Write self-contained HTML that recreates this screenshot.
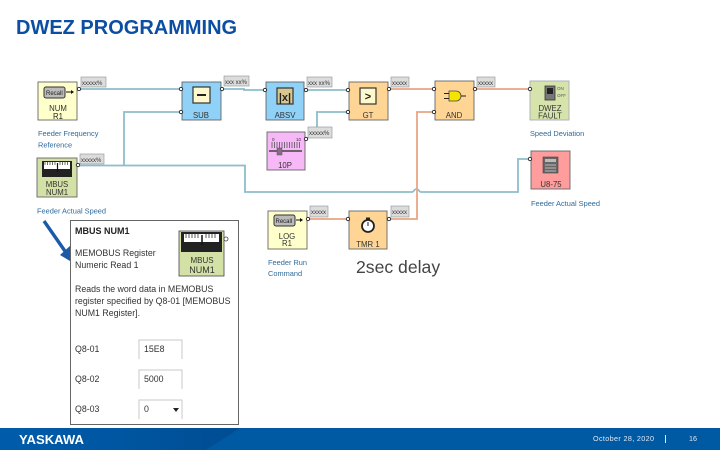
<!DOCTYPE html>
<html><head><meta charset="utf-8"><style>
html,body{margin:0;padding:0;background:#fff}
svg{display:block}
text{font-family:"Liberation Sans",sans-serif}
</style></head><body>
<svg width="720" height="450" viewBox="0 0 720 450" xmlns="http://www.w3.org/2000/svg">
<defs>
<linearGradient id="fl" x1="0" x2="1" y1="0" y2="0"><stop offset="0" stop-color="#005cab"/><stop offset=".55" stop-color="#00559f"/><stop offset="1" stop-color="#004c92"/></linearGradient>
</defs>
<rect width="720" height="450" fill="#fff"/>
<text x="16" y="34" font-size="20" font-weight="700" fill="#0b4ea2">DWEZ PROGRAMMING</text>

<!-- connectors blue -->
<g fill="none" stroke="#8dbdca" stroke-width="1.800">
<path d="M79 89H181"/>
<path d="M79 165.500H124V112H181"/>
<path d="M222 89H244V90H265"/>
<path d="M124 165.500H245V192H413M420 192H518V159H530"/>
<path d="M306 90H348"/>
<path d="M317 127V112H348"/>
<path d="M413 192Q416.500 186 420 192"/>
</g>
<!-- connectors orange -->
<g fill="none" stroke="#e8a585" stroke-width="1.800">
<path d="M389 89H434"/>
<path d="M475 89H530"/>
<path d="M307 219H348"/>
<path d="M389 219H417V112H434"/>
</g>

<!-- value tags -->
<g fill="#dcdcdc" stroke="#8a8f94" stroke-width=".6">
<rect x="81" y="77" width="25" height="10"/>
<rect x="224" y="76" width="25" height="10"/>
<rect x="307" y="77" width="25" height="10"/>
<rect x="391" y="77" width="18" height="10"/>
<rect x="477" y="77" width="18" height="10"/>
<rect x="80" y="154" width="24" height="10"/>
<rect x="308" y="127" width="24" height="11"/>
<rect x="310" y="206" width="18" height="11"/>
<rect x="391" y="206" width="18" height="11"/>
</g>
<g font-size="6" fill="#333">
<text x="82" y="85">xxxxx%</text><text x="225" y="84">xxx xx%</text><text x="308" y="85">xxx xx%</text>
<text x="392" y="85">xxxxx</text><text x="478" y="85">xxxxx</text><text x="81" y="162">xxxxx%</text>
<text x="309" y="135">xxxxx%</text><text x="311" y="214">xxxxx</text><text x="392" y="214">xxxxx</text>
</g>

<!-- blocks -->
<g stroke="#666" stroke-width=".9">
<rect x="38" y="82" width="39" height="38" fill="#ffffcc"/>
<rect x="182" y="82" width="39" height="38" fill="#8fd1f7"/>
<rect x="266" y="82" width="38" height="38" fill="#8fd1f7"/>
<rect x="267" y="132" width="38" height="38" fill="#f6b8f6"/>
<rect x="37" y="158" width="40" height="39" fill="#d3e0a6"/>
<rect x="349" y="82" width="39" height="38" fill="#ffd596"/>
<rect x="435" y="81" width="39" height="39" fill="#ffd596"/>
<rect x="530" y="81" width="39" height="39" fill="#d6e4ac" stroke="#aab"/>
<rect x="531" y="151" width="39" height="38" fill="#ff9c9c"/>
<rect x="268" y="211" width="39" height="38" fill="#ffffcc"/>
<rect x="349" y="211" width="38" height="38" fill="#ffd596"/>
</g>

<!-- ports -->
<g fill="#fff" stroke="#222" stroke-width=".9">
<circle cx="79" cy="89" r="1.700"/><circle cx="181" cy="89" r="1.700"/><circle cx="181" cy="112" r="1.700"/>
<circle cx="222" cy="89" r="1.700"/><circle cx="265" cy="90" r="1.700"/><circle cx="306" cy="90" r="1.700"/>
<circle cx="78" cy="165" r="1.700"/><circle cx="306" cy="139" r="1.700"/><circle cx="348" cy="90" r="1.700"/>
<circle cx="348" cy="112" r="1.700"/><circle cx="389" cy="89" r="1.700"/><circle cx="434" cy="89" r="1.700"/>
<circle cx="434" cy="112" r="1.700"/><circle cx="475" cy="89" r="1.700"/><circle cx="530" cy="89" r="1.700"/>
<circle cx="530" cy="159" r="1.700"/><circle cx="308" cy="219" r="1.700"/><circle cx="348" cy="219" r="1.700"/>
<circle cx="389" cy="219" r="1.700"/>
</g>

<!-- icons: Recall -->
<g>
<rect x="44" y="87" width="21" height="11" rx="2" fill="#bbb" stroke="#333"/>
<text x="46" y="95" font-size="6" fill="#222">Recall</text>
<path d="M66 92H72" stroke="#111" stroke-width="1"/><path d="M71 90l3 2-3 2z" fill="#111"/>
<rect x="274" y="215" width="21" height="11" rx="2" fill="#bbb" stroke="#333"/>
<text x="275.500" y="223" font-size="6" fill="#222">Recall</text>
<path d="M296 220H301" stroke="#111" stroke-width="1"/><path d="M300 218l3 2-3 2z" fill="#111"/>
</g>
<!-- SUB icon -->
<rect x="193" y="87" width="17" height="16" fill="#fff8cc" stroke="#333" stroke-width="1.200"/>
<rect x="197" y="94" width="9" height="2" fill="#222"/>
<!-- ABSV icon -->
<rect x="277" y="88" width="16" height="16" fill="#d8c890" stroke="#333" stroke-width="1.200"/>
<text x="285" y="101" font-size="11" font-weight="700" text-anchor="middle" fill="#222">|x|</text>
<!-- GT icon -->
<rect x="360" y="88" width="16" height="16" fill="#fff8cc" stroke="#333" stroke-width="1.200"/>
<text x="368" y="100" font-size="11" font-weight="700" text-anchor="middle" fill="#222">&gt;</text>
<!-- AND icon -->
<path d="M449 91h7a5 5 0 0 1 0 10h-7z" fill="#f4e400" stroke="#444" stroke-width=".8"/>
<path d="M444 93.500h5M444 98.500h5M461 96h5" stroke="#222" stroke-width="1"/>
<!-- 10P slider -->
<text x="272" y="141" font-size="4.500" fill="#333">0</text><text x="296" y="141" font-size="4.500" fill="#333">10</text>
<g stroke="#555" stroke-width=".8">
<path d="M272 142v6M274.500 142v6M277 142v6M279.500 142v6M282 142v6M284.500 142v6M287 142v6M289.500 142v6M292 142v6M294.500 142v6M297 142v6M299.500 142v6"/>
<path d="M269 151H302" stroke="#444" stroke-width="1.500"/>
</g>
<rect x="277" y="148" width="5" height="7" fill="#8a6a8a" stroke="#555" stroke-width=".5"/>
<!-- MBUS meter -->
<rect x="42" y="161" width="30" height="16" fill="#222"/>
<rect x="44" y="162" width="26" height="7" fill="#fff"/>
<path d="M45 162v3M47.500 162v3M50 162v3M52.500 162v3M55 162v3M60 162v3M62.500 162v3M65 162v3M67.500 162v3" stroke="#333" stroke-width=".7"/>
<path d="M57.500 163v9" stroke="#111" stroke-width="1.200"/>
<!-- DWEZ switch -->
<rect x="545" y="86" width="10" height="14" fill="#777" stroke="#333" stroke-width=".8"/>
<rect x="547" y="88" width="6" height="6" fill="#222"/>
<text x="557" y="90" font-size="4.500" fill="#555">ON</text>
<text x="557" y="97" font-size="4.500" fill="#555">OFF</text>
<!-- U8 calc -->
<rect x="543" y="157" width="15" height="16" fill="#666" stroke="#444" stroke-width=".6"/>
<rect x="545" y="159" width="11" height="3" fill="#bbb"/>
<path d="M545 165h11M545 168h11M545 171h11" stroke="#bbb" stroke-width="1"/>
<!-- TMR icon -->
<circle cx="368" cy="226" r="6" fill="#fff" stroke="#222" stroke-width="1.800"/>
<rect x="366" y="217.500" width="4" height="2" fill="#222"/>
<path d="M368 222v4" stroke="#222" stroke-width="1"/>

<!-- block labels -->
<g font-size="7.800" fill="#333" text-anchor="middle">
<text x="58" y="111">NUM</text><text x="58" y="119" fill="#222">R1</text>
<text x="201" y="118">SUB</text><text x="285" y="118">ABSV</text>
<text x="285" y="168">10P</text>
<text x="57" y="187">MBUS</text><text x="57" y="195">NUM1</text>
<text x="368" y="118">GT</text><text x="454" y="118">AND</text>
<text x="550" y="111">DWEZ</text><text x="550" y="118.500">FAULT</text>
<text x="551" y="187">U8-75</text>
<text x="287" y="239">LOG</text><text x="287" y="246">R1</text>
<text x="368" y="247">TMR 1</text>
</g>

<!-- captions -->
<g font-size="7.400" fill="#2f6a9a">
<text x="38" y="136">Feeder Frequency</text><text x="38" y="147.500">Reference</text>
<text x="37" y="213.500">Feeder Actual Speed</text>
<text x="530" y="136">Speed Deviation</text>
<text x="531" y="206">Feeder Actual Speed</text>
<text x="268" y="265">Feeder Run</text><text x="268" y="276">Command</text>
</g>

<text x="356" y="273" font-size="17.600" fill="#444">2sec delay</text>

<!-- arrow (under panel) -->
<path d="M44 221L67 254" stroke="#1a5aa8" stroke-width="3.400" fill="none"/>
<path d="M75 264L60 255L71 245z" fill="#1a5aa8"/>

<!-- panel -->
<rect x="70.500" y="220.500" width="168" height="204" fill="#fff" stroke="#666" stroke-width="1"/>
<text x="75" y="234" font-size="9" font-weight="700" fill="#222">MBUS NUM1</text>
<g font-size="8.800" fill="#333">
<text x="75" y="256">MEMOBUS Register</text>
<text x="75" y="268">Numeric Read 1</text>
<text x="75" y="292">Reads the word data in MEMOBUS</text>
<text x="75" y="304">register specified by Q8-01 [MEMOBUS</text>
<text x="75" y="316">NUM1 Register].</text>
<text x="75" y="352">Q8-01</text>
<text x="75" y="382">Q8-02</text>
<text x="75" y="412">Q8-03</text>
<text x="144" y="352">15E8</text>
<text x="144" y="382">5000</text>
<text x="144" y="412">0</text>
</g>
<path d="M139 359V340H182V359M139 389V370H182V389M139 419V400H182V419" fill="none" stroke="#c8c8c8" stroke-width="1"/>
<path d="M173 408h6l-3 4z" fill="#222"/>
<!-- panel icon -->
<rect x="179" y="231" width="45" height="45" fill="#d3e0a6" stroke="#444" stroke-width=".8"/>
<rect x="181" y="232" width="41" height="20" fill="#222"/>
<rect x="184" y="234" width="35" height="8" fill="#fff"/>
<path d="M186 234v4M189 234v4M192 234v4M195 234v4M198 234v4M206 234v4M209 234v4M212 234v4M215 234v4" stroke="#333" stroke-width=".8"/>
<path d="M202 235v10" stroke="#111" stroke-width="1.500"/>
<circle cx="226" cy="239" r="2" fill="#fff" stroke="#444" stroke-width=".8"/>
<g font-size="8" fill="#333" text-anchor="middle"><text x="202" y="263">MBUS</text><text x="202" y="273" font-size="9">NUM1</text></g>

<!-- footer -->
<rect x="0" y="428" width="720" height="22" fill="#0059a3"/>
<path d="M0 428H240L206 450H0z" fill="url(#fl)"/>
<text x="19" y="444" font-size="12.500" font-weight="700" fill="#fff" textLength="65" lengthAdjust="spacingAndGlyphs">YASKAWA</text>
<text x="593" y="441" font-size="7.200" fill="#dfe9f4" textLength="61" lengthAdjust="spacing">October 28, 2020</text>
<rect x="665" y="435" width="1" height="8" fill="#dfe9f4"/>
<text x="689" y="441" font-size="7.200" fill="#dfe9f4">16</text>
</svg>
</body></html>
